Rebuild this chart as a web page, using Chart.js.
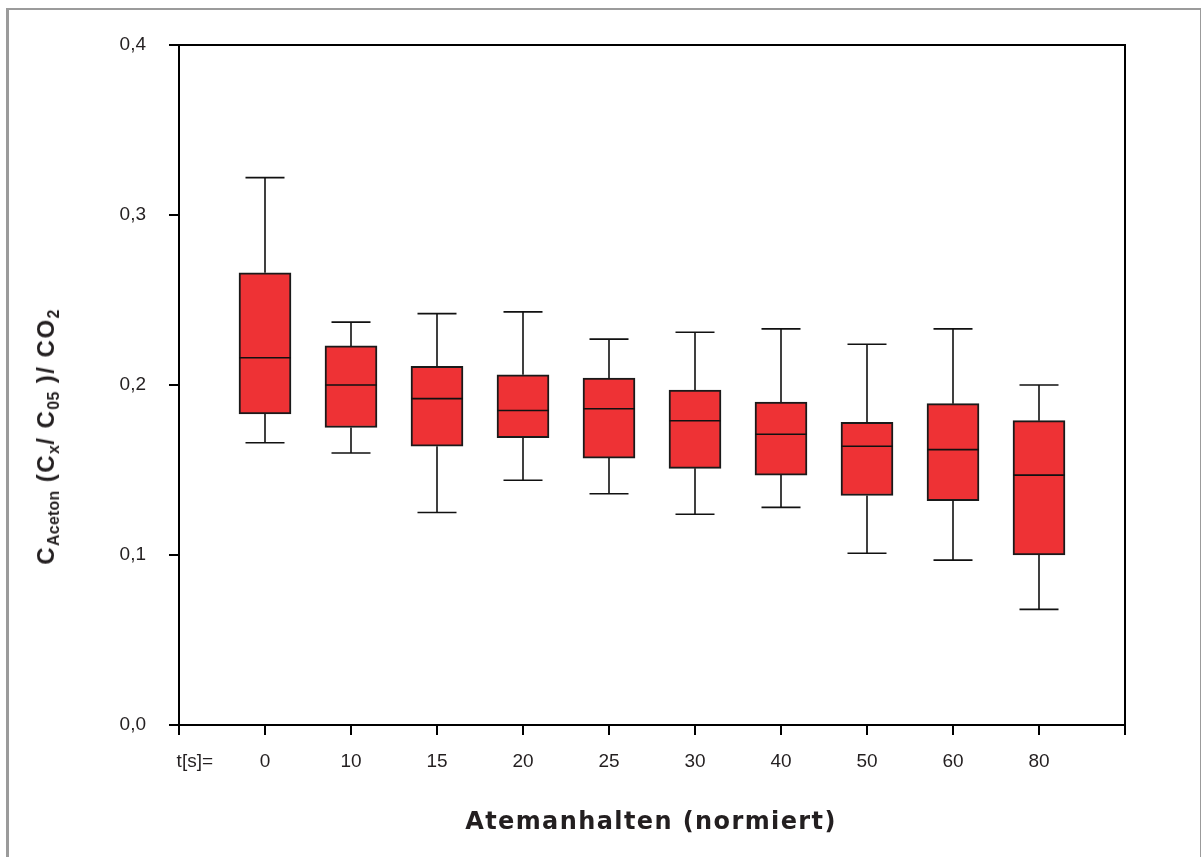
<!DOCTYPE html>
<html>
<head>
<meta charset="utf-8">
<script src="https://cdn.jsdelivr.net/npm/chart.js@4.4.1/dist/chart.umd.min.js"></script>
<style>
  html, body { margin: 0; padding: 0; background: #fff; }
  body { width: 1202px; height: 857px; position: relative; overflow: hidden; }
  #frame {
    position: absolute; left: 6px; top: 8px; width: 1191px; height: 860px;
    border-left: 3px solid #9b9b9b; border-top: 2px solid #9b9b9b; border-right: 1px solid #9b9b9b;
  }
  #chart { position: absolute; left: 0; top: 0; }
  #yTitle {
    position: absolute; left: 46px; top: 437px;
    transform: translate(-50%, -50%) rotate(-90deg);
    white-space: nowrap; font: bold 24px 'Liberation Sans', Arial, sans-serif; color: #231f20;
    letter-spacing: 1.5px;
  }
  #yTitle sub { font-size: 0.66em; vertical-align: -0.3em; line-height: 0; letter-spacing: 0.3px; }
  #xTitle {
    position: absolute; left: 651px; top: 821px;
    transform: translate(-50%, -50%);
    white-space: nowrap; font: bold 24px 'DejaVu Sans', Verdana, sans-serif; color: #231f20;
    letter-spacing: 1.4px;
  }
</style>
</head>
<body>
<div id="frame"></div>
<canvas id="chart" width="1202" height="857"></canvas>
<div id="yTitle">C<sub>Aceton</sub> (C<sub>x</sub>/ C<sub>05</sub> )/ CO<sub>2</sub></div>
<div id="xTitle">Atemanhalten (normiert)</div>
<script>
// Breath-hold times (s) and box-plot statistics
const categories = ['0', '10', '15', '20', '25', '30', '40', '50', '60', '80'];
const whiskerLow  = [0.166, 0.160, 0.125, 0.144, 0.136, 0.124, 0.128, 0.101, 0.097, 0.068];
const quartile1   = [0.183, 0.175, 0.164, 0.169, 0.157, 0.151, 0.147, 0.135, 0.132, 0.100];
const medians     = [0.216, 0.200, 0.192, 0.185, 0.186, 0.179, 0.171, 0.164, 0.162, 0.147];
const quartile3   = [0.266, 0.223, 0.211, 0.206, 0.204, 0.197, 0.190, 0.178, 0.189, 0.179];
const whiskerHigh = [0.322, 0.237, 0.242, 0.243, 0.227, 0.231, 0.233, 0.224, 0.233, 0.200];
const yTicks = [0, 0.1, 0.2, 0.3, 0.4];

// first slot carries the "t[s]=" label, last slot is the empty end of the axis
const axisLabels = ['t[s]=', ...categories, ''];
const boxData = [null, ...quartile1.map((q, i) => [q, quartile3[i]]), null];

const textColor = '#231f20';
const tickFont = { family: "'Liberation Sans', Arial, sans-serif", size: 19 };

// whiskers, caps, medians and the top/right frame lines
const boxPlotExtras = {
  id: 'boxPlotExtras',
  afterDatasetsDraw(chart) {
    const { ctx, chartArea, scales: { x, y } } = chart;
    const capHalf = 19.5;
    const boxHalf = 26;
    ctx.save();
    ctx.strokeStyle = '#111';
    ctx.lineWidth = 1.6;
    categories.forEach((c, i) => {
      const px = x.getPixelForValue(i + 1);
      const yHigh = y.getPixelForValue(whiskerHigh[i]);
      const yLow = y.getPixelForValue(whiskerLow[i]);
      const yQ1 = y.getPixelForValue(quartile1[i]);
      const yQ3 = y.getPixelForValue(quartile3[i]);
      const yMed = y.getPixelForValue(medians[i]);
      ctx.beginPath();
      ctx.moveTo(px, yQ3); ctx.lineTo(px, yHigh);
      ctx.moveTo(px - capHalf, yHigh); ctx.lineTo(px + capHalf, yHigh);
      ctx.moveTo(px, yQ1); ctx.lineTo(px, yLow);
      ctx.moveTo(px - capHalf, yLow); ctx.lineTo(px + capHalf, yLow);
      ctx.moveTo(px - boxHalf, yMed); ctx.lineTo(px + boxHalf, yMed);
      ctx.stroke();
    });
    ctx.strokeStyle = '#000';
    ctx.lineWidth = 2;
    ctx.beginPath();
    ctx.moveTo(chartArea.left, chartArea.top);
    ctx.lineTo(chartArea.right, chartArea.top);
    ctx.lineTo(chartArea.right, chartArea.bottom);
    ctx.stroke();
    ctx.restore();
  }
};

new Chart(document.getElementById('chart'), {
  type: 'bar',
  data: {
    labels: axisLabels,
    datasets: [{
      data: boxData,
      backgroundColor: '#ee3235',
      borderColor: '#1a1a1a',
      borderWidth: 2,
      borderSkipped: false,
      barThickness: 52
    }]
  },
  options: {
    responsive: false,
    animation: false,
    layout: { padding: { top: 45, right: 77, left: 0, bottom: 0 } },
    plugins: { legend: { display: false }, tooltip: { enabled: false } },
    scales: {
      x: {
        offset: false,
        afterFit: s => { s.height = 132; },
        border: { color: '#000', width: 2 },
        grid: { offset: false, drawOnChartArea: false, drawTicks: true, tickLength: 10, color: '#000', lineWidth: 2 },
        ticks: {
          color: textColor, font: tickFont, padding: 15, maxRotation: 0, autoSkip: false,
          callback: (v, i) => i === 0 ? '      ' + axisLabels[0] : axisLabels[i]
        }
      },
      y: {
        min: 0, max: 0.4,
        afterFit: s => { s.width = 179; },
        afterBuildTicks: s => { s.ticks = yTicks.map(v => ({ value: v })); },
        border: { color: '#000', width: 2 },
        grid: { drawOnChartArea: false, drawTicks: true, tickLength: 10, color: '#000', lineWidth: 2 },
        ticks: {
          color: textColor, font: tickFont, padding: 23,
          callback: v => v.toFixed(1).replace('.', ',')
        }
      }
    }
  },
  plugins: [boxPlotExtras]
});
</script>
</body>
</html>
